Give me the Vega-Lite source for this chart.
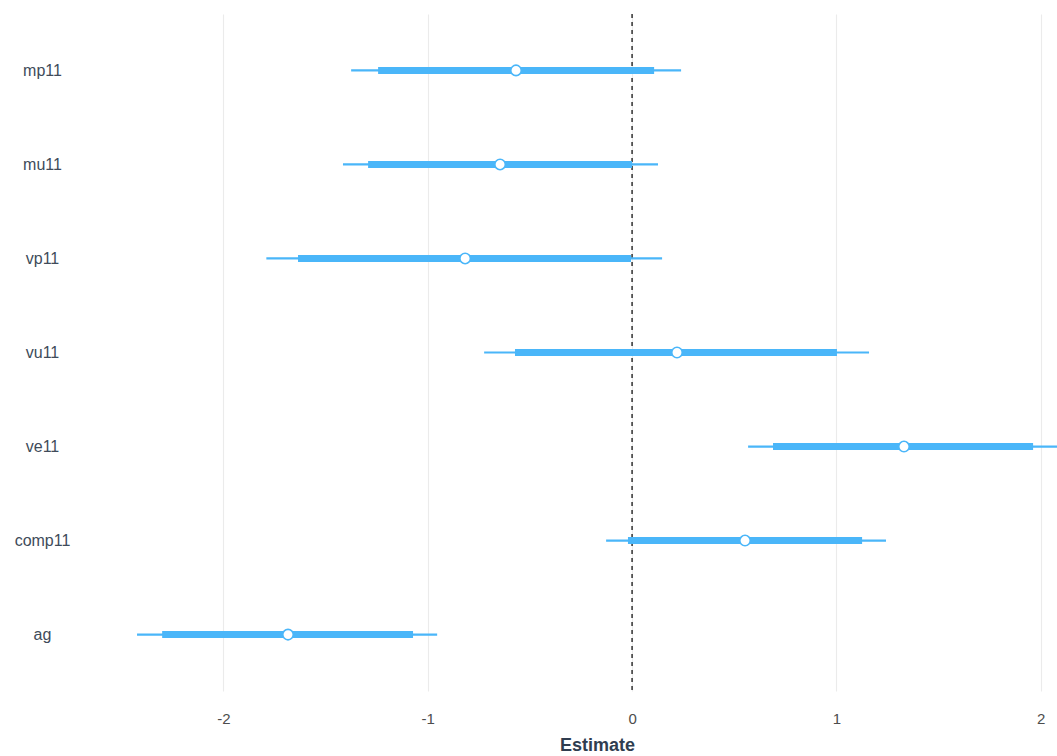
{
  "$schema": "https://vega.github.io/schema/vega-lite/v6.json",
  "width": 969,
  "height": 677,
  "autosize": {"type": "none"},
  "padding": {"left": 88, "top": 14, "right": 0, "bottom": 65},
  "background": "white",
  "config": {
    "view": {"stroke": null},
    "font": "Liberation Sans"
  },
  "data": {
    "values": [
      {"term": "mp11", "est": -0.568, "lo90": -1.243, "hi90": 0.108, "lo95": -1.375, "hi95": 0.24},
      {"term": "mu11", "est": -0.646, "lo90": -1.292, "hi90": 0.0, "lo95": -1.415, "hi95": 0.127},
      {"term": "vp11", "est": -0.817, "lo90": -1.635, "hi90": -0.005, "lo95": -1.79, "hi95": 0.147},
      {"term": "vu11", "est": 0.22, "lo90": -0.573, "hi90": 1.003, "lo95": -0.724, "hi95": 1.16},
      {"term": "ve11", "est": 1.331, "lo90": 0.69, "hi90": 1.963, "lo95": 0.568, "hi95": 2.6},
      {"term": "comp11", "est": 0.553, "lo90": -0.02, "hi90": 1.126, "lo95": -0.127, "hi95": 1.243},
      {"term": "ag", "est": -1.684, "lo90": -2.3, "hi90": -1.072, "lo95": -2.423, "hi95": -0.954}
    ]
  },
  "encoding": {
    "y": {
      "field": "term", "type": "nominal",
      "sort": ["mp11", "mu11", "vp11", "vu11", "ve11", "comp11", "ag"],
      "scale": {"type": "point", "padding": 0.6},
      "axis": {
        "title": null, "domain": false, "ticks": false, "grid": false,
        "labelAlign": "center", "labelPadding": 46, "labelFontSize": 16,
        "labelColor": "#404B5A", "labelFont": "Liberation Sans"
      }
    }
  },
  "layer": [
    {
      "mark": {"type": "rule", "color": "#000000", "strokeDash": [4, 4], "strokeWidth": 1.2},
      "data": {"values": [{"z": 0}]},
      "encoding": {
        "x": {"field": "z", "type": "quantitative"},
        "y": null
      }
    },
    {
      "mark": {"type": "rule", "color": "#4AB6F9", "strokeWidth": 2.2, "clip": true},
      "encoding": {
        "x": {
          "field": "lo95", "type": "quantitative",
          "scale": {"domain": [-2.663, 2.08], "nice": false, "zero": false},
          "axis": {
            "title": "Estimate", "values": [-2, -1, 0, 1, 2],
            "labelExpr": "datum.value < 0 ? '-' + abs(datum.value) : '' + datum.value",
            "domain": false, "ticks": false, "grid": true, "gridColor": "#EBEBEB", "gridWidth": 1.1,
            "labelFontSize": 15, "labelColor": "#4D4D4D", "labelPadding": 20,
            "titleFontSize": 18, "titleFontWeight": "bold", "titleColor": "#2F3D4F",
            "titlePadding": 10, "titleX": 509, "titleAnchor": "middle"
          }
        },
        "x2": {"field": "hi95"}
      }
    },
    {
      "mark": {"type": "rule", "color": "#4AB6F9", "strokeWidth": 7, "clip": true},
      "encoding": {
        "x": {"field": "lo90", "type": "quantitative"},
        "x2": {"field": "hi90"}
      }
    },
    {
      "mark": {"type": "point", "filled": true, "fill": "white", "stroke": "#4AB6F9", "strokeWidth": 1.6, "size": 110, "opacity": 1},
      "encoding": {
        "x": {"field": "est", "type": "quantitative"}
      }
    }
  ]
}
